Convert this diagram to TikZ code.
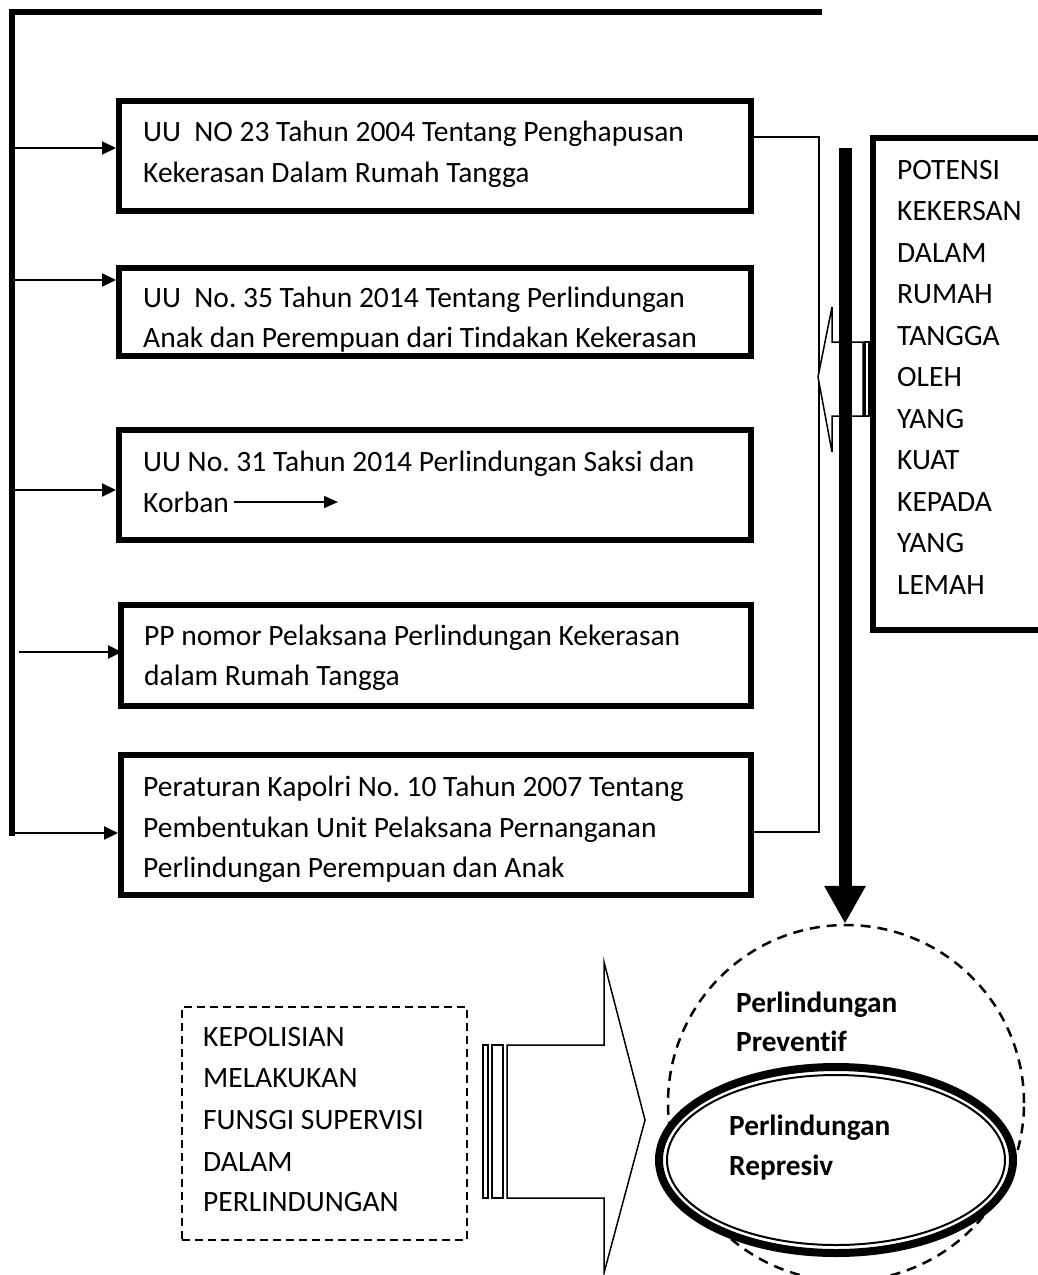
\documentclass[tikz,border=0pt]{standalone}
\usepackage{fontspec}
\setmainfont{Carlito}[Ligatures={NoCommon,NoRare,NoContextual}]
\usetikzlibrary{arrows.meta,shapes.geometric}
\frenchspacing
\begin{document}
\begin{tikzpicture}[x=1pt,y=-1pt,
  box/.style={draw, line width=6pt, inner sep=0pt, rectangle},
  txt/.style={anchor=base west, inner sep=0pt, font=\fontsize{29.5}{35}\selectfont},
  btxt/.style={anchor=base west, inner sep=0pt, font=\fontsize{29.3}{35}\selectfont\bfseries},
  arr/.style={line width=2pt, -{Triangle[length=14pt,width=13pt]}},
  thinline/.style={line width=1.5pt},
  ]
\useasboundingbox (0,0) rectangle (1038,1275);

% frame line top/left
\draw[line width=6pt, line join=miter] (822,12) -- (12,12) -- (12,836);

% boxes
\node[box, minimum width=632pt, minimum height=110pt] (b1) at (435,156) {};
\node[box, minimum width=632pt, minimum height=88pt] (b2) at (435,312) {};
\node[box, minimum width=632pt, minimum height=110pt] (b3) at (435,485) {};
\node[box, minimum width=630pt, minimum height=101pt] (b4) at (436,655.5) {};
\node[box, minimum width=630pt, minimum height=140pt] (b5) at (436,825) {};

% box texts
\node[txt] (t1a) at (143,141) {UU\ \ NO 23 Tahun 2004 Tentang Penghapusan};
\node[txt] (t1b) at (143,182) {Kekerasan Dalam Rumah Tangga};
\node[txt] (t2a) at (143,307) {UU\ \ No. 35 Tahun 2014 Tentang Perlindungan};
\node[txt] (t2b) at (143,347) {Anak dan Perempuan dari Tindakan Kekerasan};
\node[txt] (t3a) at (143,471) {UU No. 31 Tahun 2014 Perlindungan Saksi dan};
\node[txt] (t3b) at (143,512) {Korban};
\node[txt] (t4a) at (144,645) {PP nomor Pelaksana Perlindungan Kekerasan};
\node[txt] (t4b) at (144,685) {dalam Rumah Tangga};
\node[txt] (t5a) at (143,796) {Peraturan Kapolri No. 10 Tahun 2007 Tentang};
\node[txt] (t5b) at (143,837) {Pembentukan Unit Pelaksana Pernanganan};
\node[txt] (t5c) at (143,877) {Perlindungan Perempuan dan Anak};

% Korban arrow
\coordinate (kend) at (338,502);
\draw[line width=1.5pt, -{Triangle[length=14pt,width=12pt]}] ([xshift=5pt]t3b.east |- kend) -- (kend);

% arrows from frame
\coordinate (y1) at (0,148);
\coordinate (y2) at (0,280);
\coordinate (y3) at (0,490);
\coordinate (y4) at (19,652);
\coordinate (y5) at (0,833);
\coordinate (fl) at (15,0);
\draw[arr] (fl |- y1) -- (b1.west |- y1);
\draw[arr] (fl |- y2) -- (b2.west |- y2);
\draw[arr] (fl |- y3) -- (b3.west |- y3);
\draw[arr] (y4) -- ([xshift=4pt]b4.west |- y4);
\draw[arr] (fl |- y5) -- (b5.west |- y5);

% thin connector on right
\coordinate (c1) at (0,137);
\coordinate (c2) at (0,832);
\draw[thinline] (b1.east |- c1) -- (819,137) -- (819,832) -- (b5.east |- c2);

% small striped left arrow
\draw[thinline, fill=white] (818,377) -- (832,307) -- (832,342) -- (863,342) -- (863,416) -- (832,416) -- (832,452) -- cycle;
\draw[thinline] (865,342) rectangle (869,416);

% POTENSI box
\node[box, minimum width=172pt, minimum height=492pt] (pot) at (959,384) {};
\node[txt] (p1) at (897,179) {POTENSI};
\node[txt] (p2) at (897,220.5) {KEKERSAN};
\node[txt] (p3) at (897,262) {DALAM};
\node[txt] (p4) at (897,303.5) {RUMAH};
\node[txt] (p5) at (897,345) {TANGGA};
\node[txt] (p6) at (897,386.5) {OLEH};
\node[txt] (p7) at (897,428) {YANG};
\node[txt] (p8) at (897,469.5) {KUAT};
\node[txt] (p9) at (897,511) {KEPADA};
\node[txt] (p10) at (897,552.5) {YANG};
\node[txt] (p11) at (897,594) {LEMAH};

% dashed circle and ellipse
\node[circle, draw, line width=2.5pt, dash pattern=on 10pt off 7pt, minimum size=356pt, inner sep=0pt] (prev) at (846,1103) {};
\node[ellipse, draw, fill=white, line width=8pt, minimum width=354pt, minimum height=186pt, inner sep=0pt] (rep) at (836,1160) {};
\draw[line width=2pt] (rep.center) ellipse [x radius=169pt, y radius=85pt];

\node[btxt] (pv1) at (736,1012) {Perlindungan};
\node[btxt] (pv2) at (736,1051) {Preventif};
\node[btxt] (rp1) at (729,1135) {Perlindungan};
\node[btxt] (rp2) at (729,1175) {Represiv};

% thick vertical arrow
\coordinate (ts) at (845,148);
\draw[line width=13pt, -{Triangle[length=38pt,width=39pt]}] (ts) -- (ts |- prev.north);

% dashed KEPOLISIAN box
\node[draw, line width=2.5pt, dash pattern=on 8pt off 5pt, minimum width=285pt, minimum height=233pt, inner sep=0pt] (kep) at (324.5,1123.5) {};
\node[txt] (k1) at (203,1046) {KEPOLISIAN};
\node[txt] (k2) at (203,1087) {MELAKUKAN};
\node[txt] (k3) at (203,1129) {FUNSGI SUPERVISI};
\node[txt] (k4) at (203,1171) {DALAM};
\node[txt] (k5) at (203,1211) {PERLINDUNGAN};

% bottom striped right arrow
\draw[thinline] (507,1045) -- (604,1045) -- (604,962) -- (645,1120) -- (604,1273) -- (604,1198) -- (507,1198) -- cycle;
\draw[thinline] (483,1045) rectangle (488,1198);
\draw[thinline] (492,1045) rectangle (503,1198);

\end{tikzpicture}
\end{document}
